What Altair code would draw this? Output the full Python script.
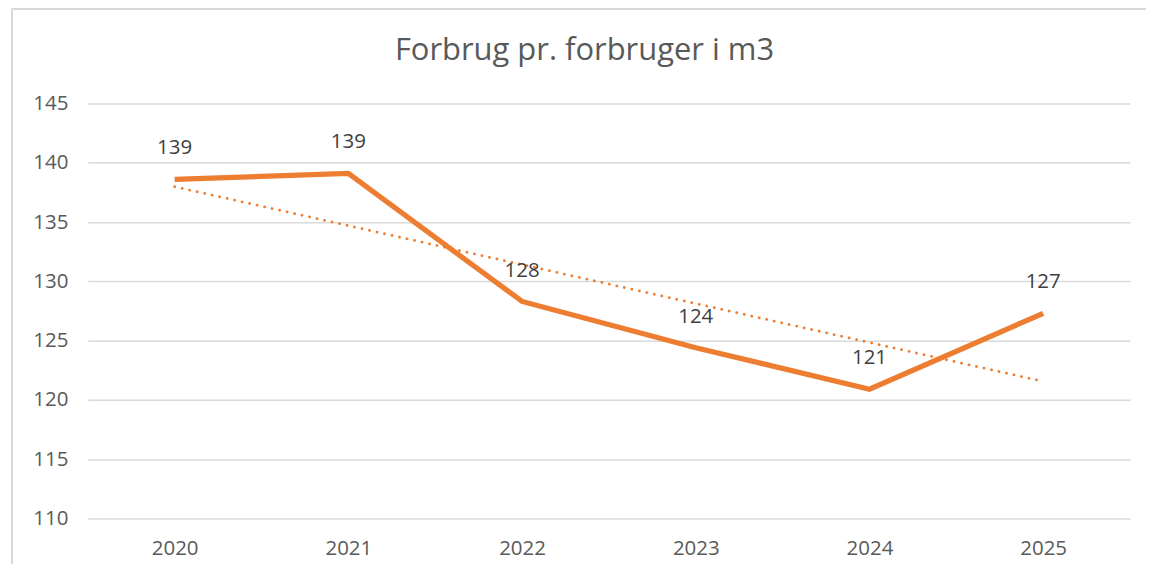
import altair as alt
import pandas as pd

years = [2020, 2021, 2022, 2023, 2024, 2025]
values = [138.6, 139.1, 128.3, 124.4, 120.9, 127.3]
y_ticks = [110, 115, 120, 125, 130, 135, 140, 145]
title_text = ["Forbrug pr. forbruger i m3"]

df = pd.DataFrame({"year": years, "value": values})
title_df = pd.DataFrame({"title": title_text})

FONT = "Open Sans"
ORANGE = "#ED7D31"
FS = 20.5

x_enc = alt.X("year:Q", scale=alt.Scale(domain=[2019.5, 2025.5], nice=False, zero=False),
              axis=alt.Axis(values=years, format="d", title=None, grid=False, domain=False,
                            ticks=False, labelPadding=20, labelFontSize=FS, labelColor="#595959",
                            labelFont=FONT))
y_enc = alt.Y("value:Q", scale=alt.Scale(domain=[110, 145], nice=False, zero=False),
              axis=alt.Axis(values=y_ticks, title=None, grid=True, gridColor="#d9d9d9",
                            gridWidth=1.5, domain=False, ticks=False, labelPadding=20,
                            labelFontSize=FS, labelColor="#595959", labelFont=FONT))

base = alt.Chart(df)

trend = base.transform_regression("year", "value").mark_line(
    color=ORANGE, strokeWidth=2.8, strokeDash=[0.1, 7.6], strokeCap="round"
).encode(x=x_enc, y=y_enc)

line = base.mark_line(color=ORANGE, strokeWidth=5.2, strokeJoin="miter").encode(x=x_enc, y=y_enc)

labels = base.mark_text(dy=-31, fontSize=FS, color="#404040", font=FONT).encode(
    x=x_enc, y=y_enc, text=alt.Text("value:Q", format=".0f")
)

title = alt.Chart(title_df).mark_text(
    fontSize=31, font=FONT, color="#595959", align="center", baseline="alphabetic"
).encode(x=alt.value(498), y=alt.value(-43.5), text="title:N")

border_left = alt.Chart(df).mark_rule(color="#d9d9d9", strokeWidth=1.5).encode(
    x=alt.value(-76), y=alt.value(-95), y2=alt.value(470)
)
border_top = alt.Chart(df).mark_rule(color="#d9d9d9", strokeWidth=1.5).encode(
    x=alt.value(-76), x2=alt.value(1070), y=alt.value(-94.5)
)

chart = alt.layer(trend, line, labels, title, border_left, border_top).properties(
    width=1045, height=416,
    autosize=alt.AutoSizeParams(type="none"),
    padding={"left": 80, "top": 95, "right": 16, "bottom": 45},
).configure_view(stroke=None)

chart.save("out.html", embed_options={"renderer": "svg", "actions": False})
